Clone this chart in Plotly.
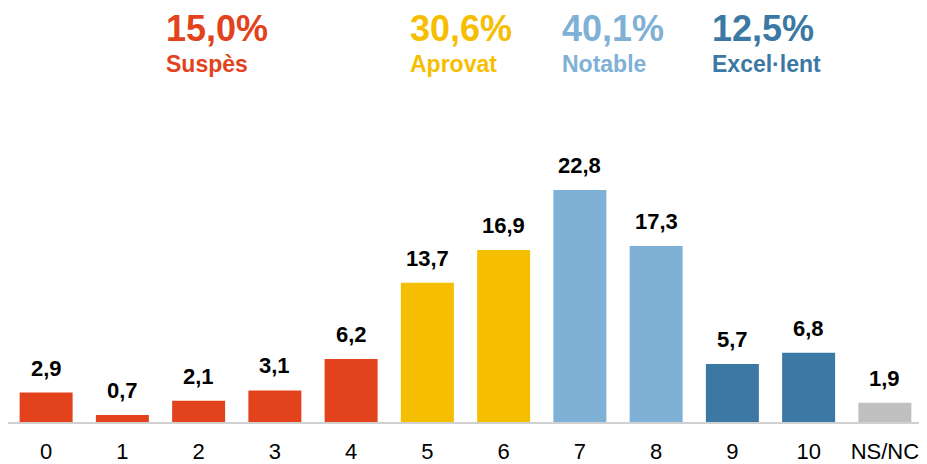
import plotly.graph_objects as go

# notes distribution (%)
notes = ["0", "1", "2", "3", "4", "5", "6", "7", "8", "9", "10", "NS/NC"]
pct = [2.9, 0.7, 2.1, 3.1, 6.2, 13.7, 16.9, 22.8, 17.3, 5.7, 6.8, 1.9]
grup = ["s", "s", "s", "s", "s", "a", "a", "n", "n", "e", "e", "x"]

# header groups
grup_noms = ["Suspès", "Aprovat", "Notable", "Excel·lent"]
grup_pct = ["15,0%", "30,6%", "40,1%", "12,5%"]

colors = {"s": "#E2431C", "a": "#F6BE00", "n": "#7FB0D5", "e": "#3B78A4", "x": "#C0C0C0"}
grup_colors = [colors["s"], colors["a"], colors["n"], colors["e"]]
grup_x = [0.170, 0.437, 0.603, 0.767]

FONT = "Liberation Sans, Arial, sans-serif"

fig = go.Figure()
fig.add_trace(go.Bar(
    x=notes, y=pct,
    marker=dict(color=[colors[g] for g in grup], line=dict(width=0)),
    hoverinfo="x+y",
))

# value labels above bars
for n, v in zip(notes, pct):
    fig.add_annotation(
        x=n, y=v, xref="x", yref="y",
        text="<b>" + f"{v:.1f}".replace(".", ",") + "</b>",
        showarrow=False, yanchor="bottom", yshift=10,
        font=dict(family=FONT, size=22, color="#000000"),
    )

# group headers
for nom, p, c, gx in zip(grup_noms, grup_pct, grup_colors, grup_x):
    fig.add_annotation(
        x=gx, y=1.222, xref="paper", yref="paper", xanchor="left", yanchor="middle",
        text="<b>" + p + "</b>", showarrow=False,
        font=dict(family=FONT, size=36, color=c),
    )
    fig.add_annotation(
        x=gx, y=1.113, xref="paper", yref="paper", xanchor="left", yanchor="middle",
        text="<b>" + nom + "</b>", showarrow=False,
        font=dict(family=FONT, size=23, color=c),
    )

# page body adds 8px offset, so margins are shifted by 8
fig.update_layout(
    width=927, height=464,
    margin=dict(l=0, r=12, t=92, b=50),
    paper_bgcolor="white", plot_bgcolor="white",
    bargap=0.305,
    showlegend=False,
    font=dict(family=FONT),
)
fig.update_xaxes(
    showline=True, linecolor="#D0D0D0", linewidth=2,
    showgrid=False, ticks="", ticklabelstandoff=9,
    tickfont=dict(family=FONT, size=22, color="#000000"),
    automargin=False,
)
fig.update_yaxes(visible=False, range=[0, 31.66], showgrid=False)

fig.write_html("out.html")
